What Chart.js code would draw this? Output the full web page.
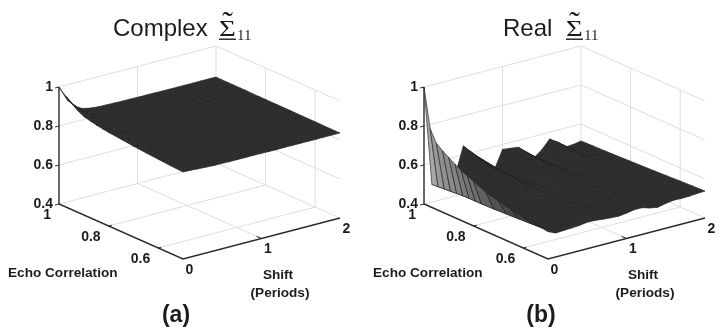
<!DOCTYPE html>
<html>
<head>
<meta charset="utf-8">
<style>
  html, body { margin: 0; padding: 0; background: #fff; }
  canvas { display: block; }
</style>
<script src="https://cdn.jsdelivr.net/npm/chart.js@4"></script>
</head>
<body>
<canvas id="surf" width="724" height="336"></canvas>
<script>
var shifts = [0, 0.1, 0.2, 0.3, 0.4, 0.5, 0.6, 0.7, 0.8, 0.9, 1, 1.1, 1.2, 1.3, 1.4, 1.5, 1.6, 1.7, 1.8, 1.9, 2];
var echoes = [1, 0.975, 0.95, 0.925, 0.9, 0.875, 0.85, 0.825, 0.8, 0.75, 0.7, 0.65, 0.6, 0.55, 0.5];

var complexValues = [
  [1.00, .925, .880, .858, .850, .846, .845, .844, .843, .843, .842, .842, .842, .841, .841, .841, .841, .841, .841, .841, .841],
  [.970, .915, .876, .857, .849, .846, .844, .844, .843, .843, .842, .842, .841, .841, .841, .841, .841, .841, .840, .840, .840],
  [.945, .905, .872, .855, .848, .845, .844, .843, .843, .842, .842, .842, .841, .841, .841, .841, .841, .840, .840, .840, .840],
  [.922, .895, .868, .853, .847, .845, .844, .843, .842, .842, .842, .841, .841, .841, .840, .840, .840, .840, .840, .840, .840],
  [.905, .885, .865, .852, .846, .844, .843, .843, .842, .842, .841, .841, .841, .840, .840, .840, .840, .840, .840, .840, .840],
  [.897, .880, .862, .851, .845, .843, .843, .842, .842, .841, .841, .841, .840, .840, .840, .840, .840, .840, .840, .840, .840],
  [.890, .875, .860, .850, .845, .843, .842, .842, .841, .841, .841, .840, .840, .840, .840, .840, .839, .839, .839, .839, .839],
  [.885, .871, .857, .849, .844, .842, .842, .841, .841, .840, .840, .840, .840, .840, .839, .839, .839, .839, .839, .839, .839],
  [.880, .868, .855, .848, .844, .842, .842, .841, .841, .840, .840, .840, .840, .839, .839, .839, .839, .839, .839, .839, .839],
  [.873, .862, .852, .846, .843, .841, .841, .840, .840, .840, .840, .839, .839, .839, .839, .838, .838, .838, .838, .838, .838],
  [.866, .858, .850, .845, .842, .841, .840, .840, .840, .839, .839, .839, .839, .838, .838, .838, .838, .838, .838, .838, .838],
  [.860, .854, .848, .843, .841, .840, .840, .839, .839, .839, .838, .838, .838, .838, .838, .837, .837, .837, .837, .837, .837],
  [.855, .851, .846, .842, .840, .839, .839, .839, .838, .838, .838, .838, .837, .837, .837, .837, .837, .837, .837, .837, .837],
  [.850, .848, .844, .841, .839, .838, .838, .838, .838, .837, .837, .837, .837, .837, .837, .836, .836, .836, .836, .836, .836],
  [.846, .845, .842, .840, .838, .838, .837, .837, .837, .837, .837, .836, .836, .836, .836, .836, .836, .836, .836, .836, .836]
];

var realValues = [
  [1.00, .490, .490, .495, .510, .645, .600, .550, .510, .485, .575, .570, .565, .530, .490, .520, .565, .540, .503, .506, .513],
  [.800, .492, .492, .497, .512, .635, .595, .548, .510, .487, .570, .565, .560, .527, .492, .520, .560, .537, .504, .507, .514],
  [.740, .495, .495, .500, .515, .625, .590, .545, .510, .490, .565, .560, .555, .525, .495, .520, .555, .535, .505, .508, .515],
  [.715, .497, .497, .502, .517, .615, .585, .542, .511, .492, .560, .556, .550, .523, .497, .520, .550, .532, .506, .509, .516],
  [.695, .500, .500, .505, .520, .605, .580, .540, .512, .495, .555, .552, .545, .522, .500, .520, .545, .530, .508, .510, .517],
  [.675, .502, .503, .507, .522, .597, .575, .537, .513, .497, .551, .548, .542, .521, .502, .521, .542, .528, .509, .511, .518],
  [.655, .503, .505, .510, .525, .590, .570, .535, .514, .500, .548, .545, .540, .520, .504, .522, .540, .527, .510, .513, .519],
  [.642, .503, .506, .511, .525, .583, .566, .534, .515, .502, .544, .542, .537, .520, .506, .522, .538, .527, .512, .514, .520],
  [.630, .503, .507, .512, .525, .577, .562, .533, .517, .505, .540, .540, .535, .520, .508, .522, .537, .527, .514, .516, .522],
  [.600, .505, .509, .514, .525, .568, .556, .532, .519, .510, .535, .537, .532, .520, .510, .523, .535, .528, .517, .519, .524],
  [.585, .508, .511, .516, .526, .560, .550, .531, .520, .513, .532, .535, .530, .520, .512, .524, .534, .529, .520, .522, .527],
  [.570, .511, .514, .518, .527, .553, .546, .530, .522, .516, .530, .534, .530, .521, .514, .525, .533, .530, .523, .525, .530],
  [.560, .514, .517, .520, .528, .547, .542, .530, .524, .519, .530, .535, .532, .522, .515, .525, .533, .530, .526, .529, .533],
  [.550, .518, .521, .524, .529, .541, .538, .530, .526, .522, .530, .536, .535, .523, .516, .526, .533, .531, .530, .533, .536],
  [.540, .523, .525, .527, .530, .536, .535, .530, .527, .525, .530, .537, .537, .525, .518, .527, .533, .532, .533, .536, .538]
];

var zTicks = [0.4, 0.6, 0.8, 1];
var echoTicks = [1, 0.8, 0.6];
var shiftTicks = [0, 1, 2];
var panelTitles = ['Complex', 'Real'];
var panelTags = ['(a)', '(b)'];

// front corner of each box, everything else hangs off these
var cornerX = [183, 548];
var cornerY = 259;

function project(panel, s, e, z) {
  return {
    x: cornerX[panel] + s * 78.5 - (e - 0.5) * 248,
    y: cornerY - s * 20.5 - (e - 0.5) * 110 - (z - 0.4) * 195
  };
}

var layers = [];

function addLine(panel, pts, color, width) {
  layers.push({
    data: pts.map(function (p) { return project(panel, p[0], p[1], p[2]); }),
    showLine: true, fill: false, pointRadius: 0,
    borderColor: color, borderWidth: width, clip: false
  });
}

function addBox(panel) {
  var wall = '#dedede';
  zTicks.forEach(function (z) {
    if (z > 0.4) {
      addLine(panel, [[0, 1, z], [2, 1, z], [2, 0.5, z]], wall, 1);
    }
  });
  addLine(panel, [[1, 1, 0.4], [1, 1, 1]], wall, 1);
  addLine(panel, [[2, 1, 0.4], [2, 1, 1]], wall, 1);
  addLine(panel, [[2, 0.8, 0.4], [2, 0.8, 1]], wall, 1);
  addLine(panel, [[2, 0.6, 0.4], [2, 0.6, 1]], wall, 1);
  addLine(panel, [[0, 1, 0.4], [2, 1, 0.4], [2, 0.5, 0.4]], wall, 1);
  addLine(panel, [[1, 1, 0.4], [1, 0.5, 0.4]], wall, 1);
  addLine(panel, [[0, 0.8, 0.4], [2, 0.8, 0.4]], wall, 1);
  addLine(panel, [[0, 0.6, 0.4], [2, 0.6, 0.4]], wall, 1);
}

function addAxes(panel) {
  var ink = '#2a2a2a';
  addLine(panel, [[0, 1, 1], [0, 1, 0.4], [0, 0.5, 0.4], [2, 0.5, 0.4]], ink, 1.4);
  zTicks.forEach(function (z) {
    addLine(panel, [[0, 1, z], [-0.05, 1, z]], ink, 1);
  });
  addLine(panel, [[0, 0.8, 0.4], [0.04, 0.8, 0.4]], ink, 1);
  addLine(panel, [[0, 0.6, 0.4], [0.04, 0.6, 0.4]], ink, 1);
  addLine(panel, [[1, 0.5, 0.4], [1, 0.52, 0.4]], ink, 1);
}

function shade(values, i, j) {
  var slope = ((values[i][j + 1] - values[i][j]) + (values[i + 1][j + 1] - values[i + 1][j])) / 0.2;
  var t = Math.max(0, -slope);
  var g = Math.round(46 + 135 * t * t / (2 + t * t));
  return 'rgb(' + g + ',' + g + ',' + g + ')';
}

// back cells first: high shift and high echo are farthest from the viewer
function addSurface(panel, values) {
  for (var j = shifts.length - 2; j >= 0; j--) {
    for (var i = 0; i < echoes.length - 1; i++) {
      var corners = [
        project(panel, shifts[j], echoes[i], values[i][j]),
        project(panel, shifts[j + 1], echoes[i], values[i][j + 1]),
        project(panel, shifts[j + 1], echoes[i + 1], values[i + 1][j + 1]),
        project(panel, shifts[j], echoes[i + 1], values[i + 1][j])
      ];
      corners.push(corners[0]);
      layers.push({
        data: corners,
        showLine: true, fill: 'shape', pointRadius: 0,
        backgroundColor: shade(values, i, j),
        borderColor: 'rgba(34,34,34,0.8)', borderWidth: 0.8, clip: false
      });
    }
  }
}

[0, 1].forEach(function (panel) {
  addBox(panel);
  addAxes(panel);
  addSurface(panel, panel === 0 ? complexValues : realValues);
});

function put(ctx, text, x, y, font, align) {
  ctx.font = font;
  ctx.textAlign = align || 'center';
  ctx.fillText(text, x, y);
}

var textPlugin = {
  id: 'panelText',
  afterDraw: function (chart) {
    var ctx = chart.ctx;
    var sx = chart.scales.x, sy = chart.scales.y;
    var tickFont = 'bold 14px "Liberation Sans"';
    var labelFont = 'bold 13.6px "Liberation Sans"';
    var titleX = [113, 503];
    var sigmaX = [219, 566];
    ctx.save();
    ctx.fillStyle = '#1c1c1c';
    ctx.textBaseline = 'middle';
    [0, 1].forEach(function (panel) {
      var dx = cornerX[panel] - cornerX[0];
      function tick(text, p, ox, oy, align) {
        put(ctx, text, sx.getPixelForValue(p.x) + ox, sy.getPixelForValue(p.y) + oy, tickFont, align);
      }
      zTicks.forEach(function (z) {
        tick(String(z), project(panel, 0, 1, z), -6, 0, 'right');
      });
      echoTicks.forEach(function (e) {
        tick(String(e), project(panel, 0, e, 0.4), -8, 11, 'right');
      });
      shiftTicks.forEach(function (s) {
        tick(String(s), project(panel, s, 0.5, 0.4), 6.5, 11, 'center');
      });
      put(ctx, 'Echo Correlation', 8 + dx, 273, labelFont, 'left');
      put(ctx, 'Shift', 278 + dx, 275, labelFont);
      put(ctx, '(Periods)', 280 + dx, 293, labelFont);
      put(ctx, panelTags[panel], 176 + dx, 316, 'bold 23px "Liberation Sans"');

      ctx.textBaseline = 'alphabetic';
      put(ctx, panelTitles[panel], titleX[panel], 36, '24px "Liberation Sans"', 'left');
      // the sigma in the reference is wider than the serif glyph
      ctx.save();
      ctx.translate(sigmaX[panel], 35.5);
      ctx.scale(1.2, 1);
      put(ctx, 'Σ', 0, 0, '24px "Liberation Serif"', 'left');
      ctx.restore();
      put(ctx, '\u02DC', sigmaX[panel] + 8.5, 33, '32px "Liberation Serif"');
      put(ctx, '11', sigmaX[panel] + 18, 40, '15px "Liberation Serif"', 'left');
      ctx.fillRect(sigmaX[panel], 38.5, 17, 1.4);
      ctx.textBaseline = 'middle';
    });
    ctx.restore();
  }
};

new Chart(document.getElementById('surf').getContext('2d'), {
  type: 'scatter',
  data: { datasets: layers.slice().reverse() },
  plugins: [textPlugin],
  options: {
    responsive: false,
    animation: false,
    events: [],
    layout: { padding: 0 },
    scales: {
      x: { type: 'linear', min: 0, max: 724, display: false },
      y: { type: 'linear', min: 0, max: 336, reverse: true, display: false }
    },
    plugins: { legend: { display: false }, tooltip: { enabled: false } }
  }
});
</script>
</body>
</html>
